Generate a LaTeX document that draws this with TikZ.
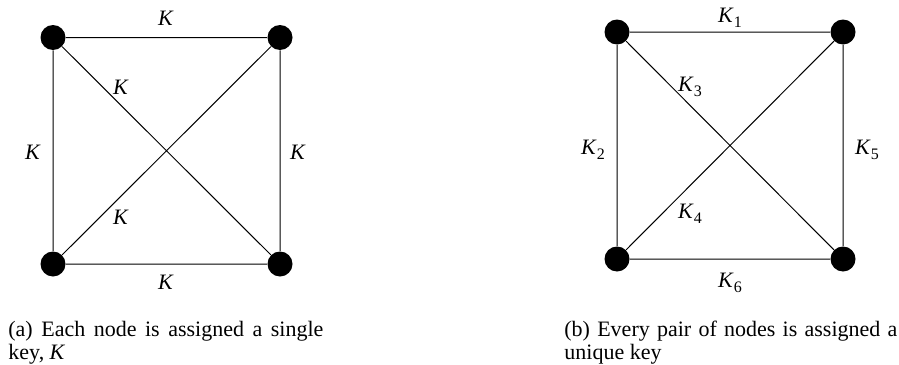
\documentclass[tikz,border=0pt]{standalone}
\usepackage{fontspec}
\setmainfont{Liberation Serif}
\newcommand{\Ksub}[1]{\textit{K}\raisebox{-0.22em}{\fontsize{8}{8}\selectfont #1}}
\begin{document}
\begin{tikzpicture}[x=0.5pt,y=-0.5pt,
  vtx/.style={circle,fill=black,inner sep=0pt,minimum size=12.5pt},
  edge/.style={line width=0.5pt},
  lbl/.style={font=\fontsize{11}{13}\selectfont,inner sep=0pt},
  captext/.style={font=\fontsize{11}{11.5}\selectfont,inner sep=0pt,anchor=base west}]
\useasboundingbox (0,0) rectangle (899,364);
% left graph
\node[vtx] (a1) at (53,37.5) {};
\node[vtx] (a2) at (280,37.5) {};
\node[vtx] (a3) at (53,264) {};
\node[vtx] (a4) at (280,264) {};
\draw[edge] (a1) -- (a2) (a1) -- (a3) (a2) -- (a4) (a3) -- (a4) (a1) -- (a4) (a2) -- (a3);
\node[lbl] (la1) at (166,18) {\textit{K}};
\node[lbl] (la2) at (33,152) {\textit{K}};
\node[lbl] (la3) at (298,152) {\textit{K}};
\node[lbl] (la4) at (166,282) {\textit{K}};
\node[lbl] (la5) at (121,87) {\textit{K}};
\node[lbl] (la6) at (121,217) {\textit{K}};
% right graph
\node[vtx] (b1) at (617,32) {};
\node[vtx] (b2) at (843,32) {};
\node[vtx] (b3) at (617,259) {};
\node[vtx] (b4) at (843,259) {};
\draw[edge] (b1) -- (b2) (b1) -- (b3) (b2) -- (b4) (b3) -- (b4) (b1) -- (b4) (b2) -- (b3);
\node[lbl] (lb1) at (730,18) {\Ksub{1}};
\node[lbl] (lb2) at (593,150) {\Ksub{2}};
\node[lbl] (lb5) at (867,150) {\Ksub{5}};
\node[lbl] (lb6) at (730,283) {\Ksub{6}};
\node[lbl] (lb3) at (690,87) {\Ksub{3}};
\node[lbl] (lb4) at (690,214) {\Ksub{4}};
% captions
\node[captext] (capa1) at (8,336.5) {\makebox[157.5pt][s]{(a) Each node is assigned a single}};
\node[captext] (capa2) at (8,359) {key, \textit{K}};
\node[captext] (capb1) at (564,336.5) {\makebox[166.5pt][s]{(b) Every pair of nodes is assigned a}};
\node[captext] (capb2) at (564,359) {unique key};
\end{tikzpicture}
\end{document}
